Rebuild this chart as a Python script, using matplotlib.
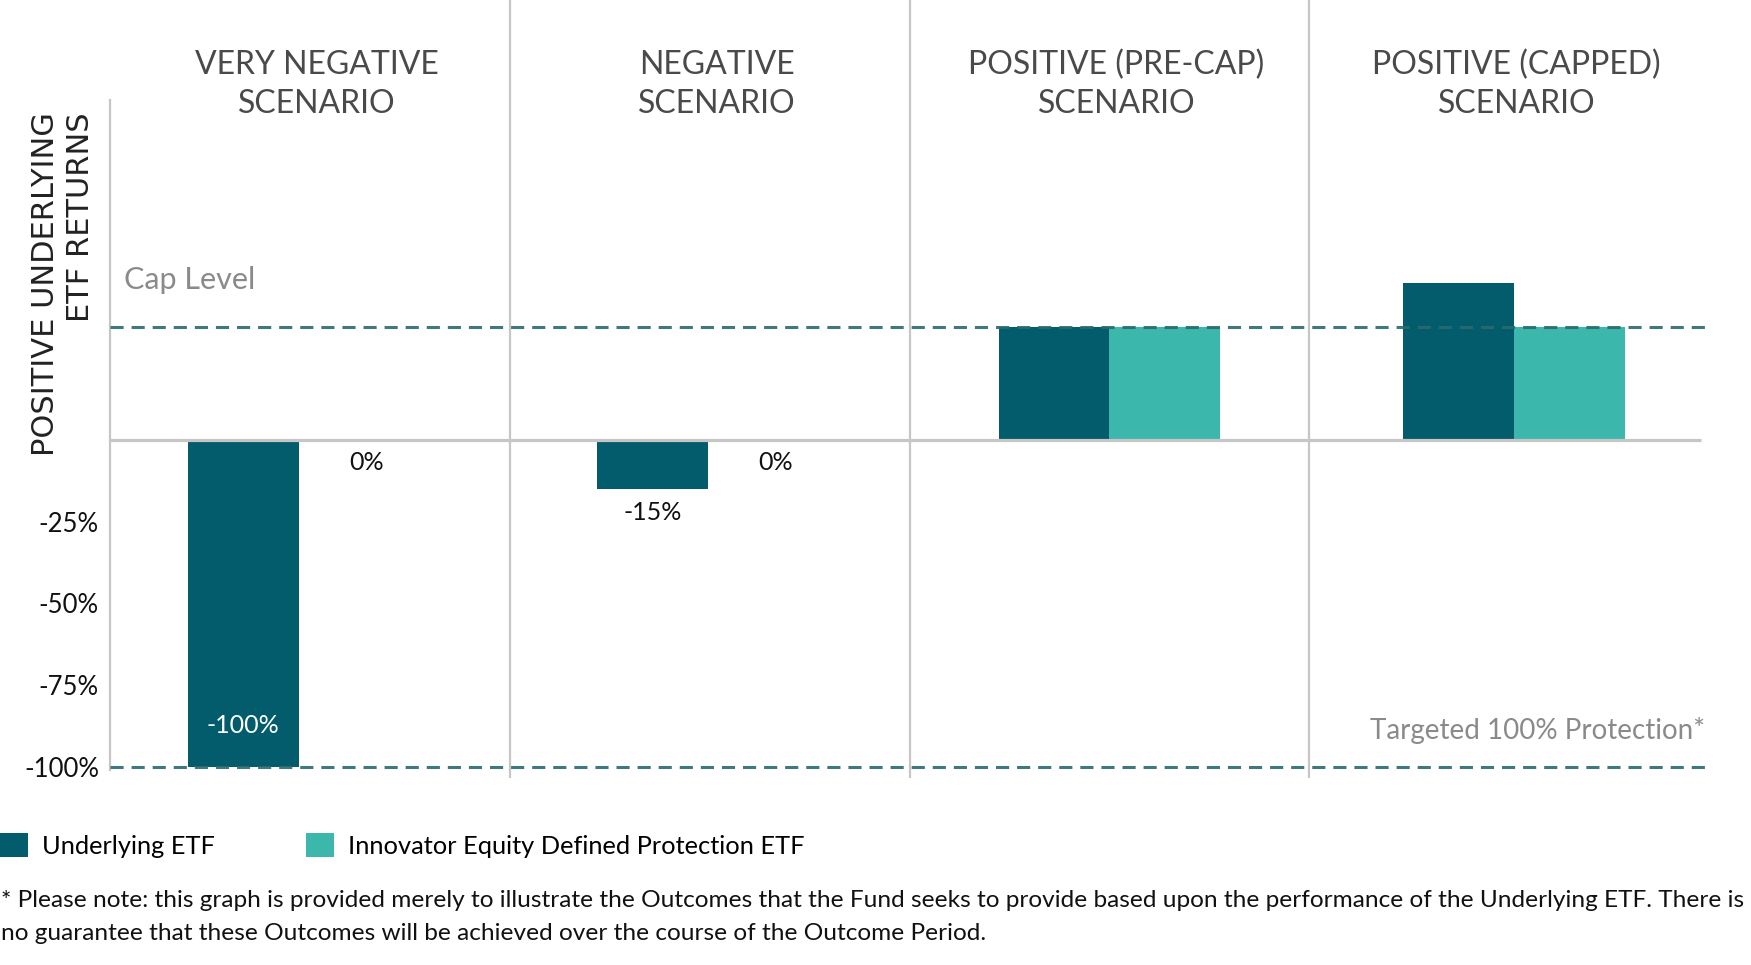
import numpy as np
import matplotlib
matplotlib.use('Agg')
import matplotlib.pyplot as plt
from matplotlib.patches import Patch

# data
scenarios = ['VERY NEGATIVE\nSCENARIO', 'NEGATIVE\nSCENARIO',
             'POSITIVE (PRE-CAP)\nSCENARIO', 'POSITIVE (CAPPED)\nSCENARIO']
underlying = [-100, -15, 34.6, 48]
protection = [0, 0, 34.6, 34.6]
underlying_labels = ['-100%', '-15%', '', '']
protection_labels = ['0%', '0%', '', '']
cap_level = 34.6
floor_level = -100
yticks = [-25, -50, -75, -100]
ytick_labels = ['-25%', '-50%', '-75%', '-100%']
series_names = ['Underlying ETF', 'Innovator Equity Defined Protection ETF']

c_under = '#025C6B'
c_prot = '#3BB7AC'
c_dash = '#2B6A6F'
c_grid = '#C6C6C6'

plt.rcParams['font.family'] = ['Lato', 'DejaVu Sans']

W, H = 1751, 965
fig = plt.figure(figsize=(W / 100, H / 100), dpi=100)
# axes: x 110..1709 px, y 0..778 px from top
ax = fig.add_axes([110 / W, (H - 778) / H, 1599 / W, 778 / H])
ax.set_xlim(0, 4)
ax.set_ylim(-103.4, 134.6)

# group centres sit a touch off the column middles in the original
x = np.arange(len(scenarios)) + 0.5 + np.array([-0.028, -0.005, 0.0, 0.012])
w = 0.277
ax.bar(x - w / 2, underlying, w, color=c_under, zorder=2)
ax.bar(x + w / 2, protection, w, color=c_prot, zorder=2)

# column dividers and zero line
for d in range(1, len(scenarios)):
    ax.axvline(d, color=c_grid, lw=1.6, zorder=1)
ax.hlines(0, 0, 3.98, color=c_grid, lw=2.3, zorder=3)

# cap / floor dashed lines
for lvl in (cap_level, floor_level):
    ax.hlines(lvl, 0, 3.99, color=c_dash, lw=2.2, linestyles=(0, (4.3, 2.6)),
              alpha=0.9, zorder=4)

# bar labels
for xi, v, lab in zip(x - w / 2, underlying, underlying_labels):
    if not lab:
        continue
    if v <= -90:
        ax.annotate(lab, (xi, v), xytext=(0, 30), textcoords='offset points',
                    ha='center', va='center', color='white', fontsize=18)
    else:
        ax.annotate(lab, (xi, v), xytext=(0, -17), textcoords='offset points',
                    ha='center', va='center', color='#111111', fontsize=18)
for xi, v, lab in zip(x + w / 2, protection, protection_labels):
    if lab:
        ax.annotate(lab, (xi, v), xytext=(9, -16), textcoords='offset points',
                    ha='center', va='center', color='#111111', fontsize=18)

# scenario titles
for i, t in enumerate(scenarios):
    ax.text(i + 0.5 + 0.018, 108.8, t, ha='center', va='center', fontsize=23,
            color='#4A4A4A', linespacing=1.4)

ax.text(0.035, 49, 'Cap Level', ha='left', va='center', fontsize=22,
        color='#8A8A8A')
ax.text(3.99, -89, 'Targeted 100% Protection*', ha='right', va='center',
        fontsize=20, color='#8A8A8A')

# axes styling
for s in ('top', 'right', 'bottom'):
    ax.spines[s].set_visible(False)
ax.spines['left'].set_color(c_grid)
ax.spines['left'].set_linewidth(1.6)
ax.spines['left'].set_bounds(-101, 104)
ax.set_xticks([])
ax.set_yticks(yticks)
ax.set_yticklabels(ytick_labels, fontsize=18.5, color='#111111')
ax.tick_params(axis='y', length=0, pad=8)

fig.text(63 / W, 1 - 112 / H, 'POSITIVE UNDERLYING\nETF RETURNS', rotation=90,
         ha='center', va='top', multialignment='right', fontsize=22,
         family=['DejaVu Sans'], color='#222222', linespacing=1.25)

handles = [Patch(facecolor=c_under), Patch(facecolor=c_prot)]
fig.legend(handles, series_names, loc='upper left',
           bbox_to_anchor=(0, 1 - 833 / H), ncol=2, frameon=False, fontsize=18.3,
           handlelength=1.1, handleheight=1.1, handletextpad=0.55,
           columnspacing=3.6, borderpad=0, borderaxespad=0)

note = ('* Please note: this graph is provided merely to illustrate the Outcomes that the Fund '
        'seeks to provide based upon the performance of the Underlying ETF. There is\n'
        'no guarantee that these Outcomes will be achieved over the course of the Outcome Period.')
fig.text(1 / W, 1 - 917 / H, note, ha='left', va='center', fontsize=17.6,
         color='#111111', linespacing=1.75)

fig.savefig('out.png', dpi=100)
